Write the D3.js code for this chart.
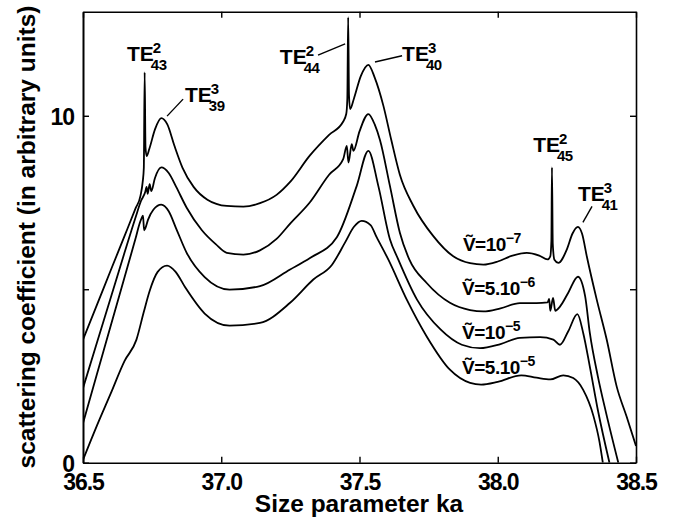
<!DOCTYPE html>
<html>
<head>
<meta charset="utf-8">
<script src="https://cdn.jsdelivr.net/npm/d3@7"></script>
<style>
  body { margin: 0; background: #fff; }
  text { font-family: "Liberation Sans", Arial, Helvetica, sans-serif; font-weight: bold; fill: #000; }
</style>
</head>
<body>
<div id="chart"></div>
<script>
// size parameter ka / scattering coefficient
var curveV7 = [
    [36.50, 3.55], [36.55, 4.54], [36.60, 5.54], [36.65, 6.53], [36.69, 7.33], [36.708, 7.7],
    [36.716, 8.1], [36.720, 8.5], [36.723, 11.25], [36.726, 9.1], [36.730, 8.84], [36.740, 9.05],
    [36.760, 9.6], [36.783, 9.93], [36.805, 9.75], [36.83, 9.15], [36.86, 8.5], [36.90, 7.95],
    [36.95, 7.58], [37.02, 7.40], [37.08, 7.38], [37.14, 7.48], [37.20, 7.72], [37.25, 8.1],
    [37.32, 8.85], [37.39, 9.45], [37.44, 9.82], [37.452, 10.05], [37.456, 10.5], [37.459, 12.84],
    [37.462, 10.6], [37.466, 10.19], [37.480, 10.5], [37.505, 11.15], [37.532, 11.47], [37.555, 11.1],
    [37.586, 10.3], [37.615, 9.3], [37.646, 8.3], [37.695, 7.4], [37.767, 6.53], [37.839, 5.95],
    [37.90, 5.75], [37.948, 5.71], [38.00, 5.8], [38.05, 5.96], [38.105, 6.05], [38.15, 5.97],
    [38.180, 5.86], [38.190, 5.95], [38.194, 6.4], [38.196, 8.51], [38.199, 6.3], [38.205, 5.85],
    [38.219, 5.76], [38.25, 6.15], [38.270, 6.6], [38.290, 6.8], [38.305, 6.6], [38.322, 5.95],
    [38.358, 4.7], [38.394, 3.55], [38.430, 2.2], [38.466, 1.33], [38.500, 0.48]
];

var curveV56 = [
    [36.50, 2.15], [36.55, 3.45], [36.60, 4.75], [36.65, 6.05], [36.69, 7.07], [36.71, 7.55],
    [36.725, 7.8], [36.730, 7.95], [36.734, 7.75], [36.741, 8.03], [36.747, 7.83], [36.760, 8.2],
    [36.783, 8.51], [36.81, 8.35], [36.837, 7.95], [36.875, 7.35], [36.93, 6.7], [36.98, 6.3],
    [37.02, 6.05], [37.08, 6.0], [37.14, 6.12], [37.20, 6.45], [37.25, 6.9], [37.32, 7.5],
    [37.39, 8.3], [37.441, 8.75], [37.454, 9.13], [37.460, 8.65], [37.472, 9.18], [37.478, 8.99],
    [37.50, 9.55], [37.532, 10.05], [37.555, 9.75], [37.574, 9.3], [37.610, 7.98], [37.646, 6.63],
    [37.680, 5.86], [37.743, 5.18], [37.827, 4.61], [37.90, 4.4], [37.948, 4.36], [38.01, 4.45],
    [38.08, 4.6], [38.14, 4.6], [38.180, 4.62], [38.186, 4.72], [38.190, 4.38], [38.200, 4.75],
    [38.208, 4.38], [38.225, 4.5], [38.255, 4.9], [38.290, 5.36], [38.316, 4.8], [38.333, 3.74],
    [38.362, 2.49], [38.392, 1.43], [38.436, 0]
];

var curveV15 = [
    [36.50, 1.14], [36.55, 2.54], [36.60, 3.94], [36.65, 5.34], [36.69, 6.46], [36.705, 6.9],
    [36.712, 7.05], [36.717, 7.12], [36.721, 6.7], [36.725, 6.75], [36.735, 7.0], [36.755, 7.3],
    [36.783, 7.44], [36.81, 7.25], [36.837, 6.75], [36.875, 6.05], [36.94, 5.35], [37.03, 4.99],
    [37.14, 5.09], [37.249, 5.57], [37.321, 5.9], [37.418, 6.5], [37.49, 7.98], [37.532, 8.99],
    [37.568, 7.98], [37.610, 6.44], [37.640, 5.86], [37.708, 4.7], [37.793, 3.84], [37.87, 3.4],
    [37.936, 3.3], [38.01, 3.42], [38.08, 3.6], [38.153, 3.62], [38.201, 3.55], [38.225, 3.4],
    [38.255, 3.79], [38.288, 4.28], [38.309, 3.74], [38.333, 2.77], [38.362, 1.52], [38.404, 0]
];

var curveV55 = [
    [36.50, 0.08], [36.55, 1.06], [36.60, 1.99], [36.65, 2.93], [36.693, 3.54], [36.72, 4.35],
    [36.741, 4.95], [36.77, 5.5], [36.804, 5.68], [36.835, 5.5], [36.87, 5.05], [36.94, 4.3],
    [37.03, 3.95], [37.14, 4.03], [37.249, 4.61], [37.333, 5.28], [37.40, 5.7], [37.448, 6.35],
    [37.480, 6.8], [37.508, 6.97], [37.540, 6.85], [37.562, 6.5], [37.604, 5.86], [37.671, 4.7],
    [37.743, 3.64], [37.827, 2.68], [37.90, 2.3], [37.94, 2.25], [38.00, 2.33], [38.085, 2.52],
    [38.14, 2.45], [38.19, 2.4], [38.237, 2.52], [38.273, 2.44], [38.309, 2.1], [38.346, 1.35],
    [38.368, 0.6], [38.380, 0]
];

var xTicks = [36.5, 37.0, 37.5, 38.0, 38.5];
var yTicks = [0, 5, 10];
var yTickLabels = ["0", "", "10"];

// mode labels: name, superscript, subscript, anchor (ka, value)
var modeLabels = [
    ["TE", "2", "43", 36.659, 11.58],
    ["TE", "3", "39", 36.869, 10.40],
    ["TE", "2", "44", 37.212, 11.49],
    ["TE", "3", "40", 37.654, 11.58],
    ["TE", "2", "45", 38.128, 8.95],
    ["TE", "3", "41", 38.290, 7.53]
];
var leaderLines = [
    [[36.804, 9.99], [36.862, 10.48]],
    [[37.350, 11.75], [37.448, 12.07]],
    [[37.556, 11.55], [37.654, 11.73]],
    [[38.308, 6.93], [38.341, 7.39]]
];
// potential labels: mantissa, exponent, anchor
var potLabels = [
    ["10", "\u22127", 37.874, 6.09],
    ["5.10", "\u22126", 37.871, 4.82],
    ["10", "\u22125", 37.871, 3.57],
    ["5.10", "\u22125", 37.871, 2.56]
];

var width = 681;
var height = 520;
var margin = { top: 11.7, right: 45, bottom: 57.3, left: 83 };

var svg = d3.select("#chart").append("svg")
    .attr("width", width)
    .attr("height", height);

var x = d3.scaleLinear()
    .domain([36.5, 38.5])
    .range([margin.left, width - margin.right]);

var y = d3.scaleLinear()
    .domain([0, 13])
    .range([height - margin.bottom, margin.top]);

svg.append("clipPath").attr("id", "plotClip")
    .append("rect")
    .attr("x", margin.left).attr("y", margin.top)
    .attr("width", width - margin.left - margin.right)
    .attr("height", height - margin.top - margin.bottom);

// axes, ticks pointing inward
var axBottom = svg.append("g")
    .attr("transform", `translate(0,${height - margin.bottom})`)
    .call(d3.axisBottom(x).tickValues(xTicks).tickSize(-6).tickSizeOuter(0).tickPadding(11)
        .tickFormat(d3.format(".1f")));
var axTop = svg.append("g")
    .attr("transform", `translate(0,${margin.top})`)
    .call(d3.axisTop(x).tickValues(xTicks).tickSize(-6).tickSizeOuter(0).tickFormat(""));
var axLeft = svg.append("g")
    .attr("transform", `translate(${margin.left},0)`)
    .call(d3.axisLeft(y).tickValues(yTicks).tickSize(-6).tickSizeOuter(0).tickPadding(9)
        .tickFormat(function (d, i) { return yTickLabels[i]; }));
var axRight = svg.append("g")
    .attr("transform", `translate(${width - margin.right},0)`)
    .call(d3.axisRight(y).tickValues(yTicks).tickSize(-6).tickSizeOuter(0).tickFormat(""));

[axBottom, axTop, axLeft, axRight].forEach(function (g) {
    g.selectAll(".domain").attr("stroke", "#000").attr("stroke-width", 1.6);
    g.selectAll(".tick line").attr("stroke", "#000").attr("stroke-width", 1.4);
    g.selectAll("text")
        .style("font-family", "'Liberation Sans', Arial, sans-serif")
        .style("font-weight", "bold")
        .style("font-size", "23px")
        .style("letter-spacing", "-1px")
        .attr("fill", "#000");
});
axLeft.select(".domain").attr("stroke-width", 2);
axLeft.selectAll(".tick text").attr("dy", "0.4em");

var line = d3.line()
    .x(function (d) { return x(d[0]) })
    .y(function (d) { return y(d[1]) })
    .curve(d3.curveMonotoneX);

[curveV7, curveV56, curveV15, curveV55].forEach(function (c) {
    svg.append("path")
        .datum(c)
        .attr("clip-path", "url(#plotClip)")
        .attr("fill", "none")
        .attr("stroke", "#000")
        .attr("stroke-width", 1.8)
        .attr("stroke-linejoin", "round")
        .attr("d", line);
});

// leader lines to the resonances
leaderLines.forEach(function (l) {
    svg.append("line")
        .attr("x1", x(l[0][0])).attr("y1", y(l[0][1]))
        .attr("x2", x(l[1][0])).attr("y2", y(l[1][1]))
        .attr("stroke", "#000").attr("stroke-width", 1.4);
});

modeLabels.forEach(function (m) {
    var px = x(m[3]), py = y(m[4]);
    var t = svg.append("text")
        .attr("x", px).attr("y", py)
        .style("font-size", "21px")
        .text(m[0]);
    var w = t.node().getComputedTextLength();
    svg.append("text")
        .attr("x", px + w - 1).attr("y", py - 8)
        .style("font-size", "15px")
        .text(m[1]);
    svg.append("text")
        .attr("x", px + w - 3).attr("y", py + 9)
        .style("font-size", "15px")
        .style("letter-spacing", "-0.5px")
        .text(m[2]);
});

potLabels.forEach(function (p) {
    var t = svg.append("text")
        .attr("x", x(p[2])).attr("y", y(p[3]))
        .style("font-size", "19px")
        .style("letter-spacing", "-0.5px");
    t.append("tspan").text("\u1E7C=" + p[0]);
    t.append("tspan").attr("dy", -8).style("font-size", "14px").text(p[1]);
});

svg.append("text")
    .attr("transform", "translate(35,237) rotate(-90)")
    .attr("text-anchor", "middle")
    .style("font-size", "24.5px")
    .text("scattering coefficient (in arbitrary units)");

svg.append("text")
    .attr("x", 359).attr("y", 512)
    .attr("text-anchor", "middle")
    .style("font-size", "24.5px")
    .text("Size parameter ka");
</script>
</body>
</html>
